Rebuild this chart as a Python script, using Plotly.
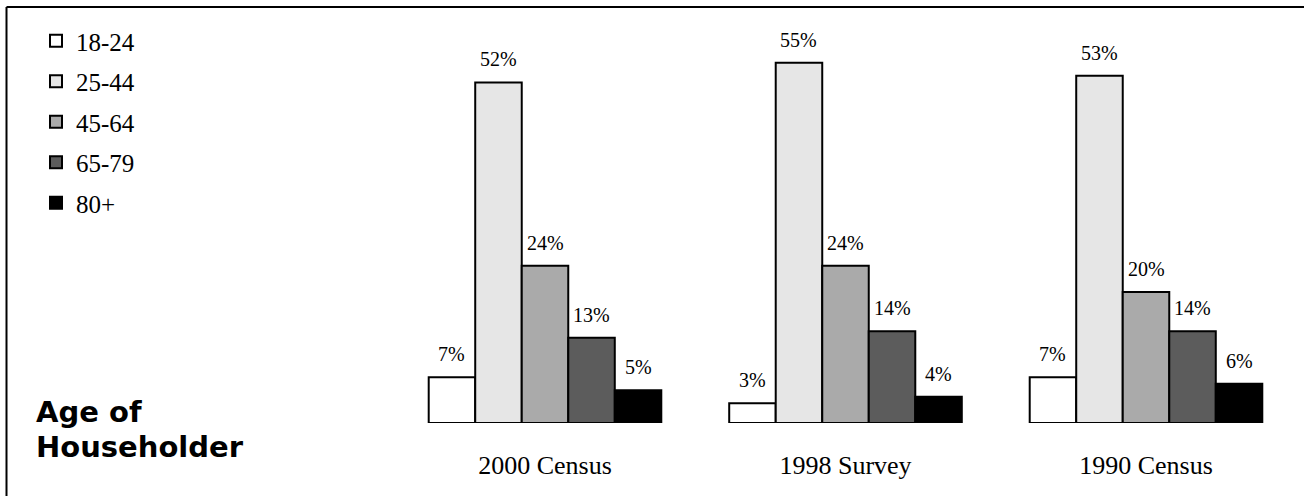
import plotly.graph_objects as go

# ---- data ----
surveys = ["2000 Census", "1998 Survey", "1990 Census"]
age_groups = ["18-24", "25-44", "45-64", "65-79", "80+"]
pct_18_24 = [7, 3, 7]
pct_25_44 = [52, 55, 53]
pct_45_64 = [24, 24, 20]
pct_65_79 = [13, 14, 14]
pct_80_plus = [5, 4, 6]
series_values = [pct_18_24, pct_25_44, pct_45_64, pct_65_79, pct_80_plus]
colors = ["#ffffff", "#e6e6e6", "#aaaaaa", "#5c5c5c", "#000000"]
title_lines = ["Age of", "Householder"]

W, H = 1304, 496
M_T, M_B = 30, 73
BARGAP = 0.226
SERIF = "Liberation Serif, Times New Roman, serif"
plot_h = H - M_T - M_B
base_px = H - M_B


def py(page_y):
    """page pixel row -> paper y"""
    return (base_px - page_y) / plot_h


fig = go.Figure()
for name, vals, col in zip(age_groups, series_values, colors):
    fig.add_trace(go.Bar(
        name=name, x=surveys, y=vals,
        marker=dict(color=col, line=dict(color="#000000", width=2)),
        legendgroup=name,
    ))

# value labels above each bar
n = len(age_groups)
bw = (1 - BARGAP) / n
annotations = []
for j, vals in enumerate(series_values):
    for i, v in enumerate(vals):
        annotations.append(dict(
            x=i - (1 - BARGAP) / 2 + bw * (j + 0.5), y=v, xref="x", yref="y",
            text=f"{v}%", showarrow=False, yanchor="bottom", yshift=10,
            font=dict(family=SERIF, size=20, color="#000000"),
        ))

for line, cy in zip(title_lines, [412, 447]):
    annotations.append(dict(
        x=34 / W, xref="paper", xanchor="left",
        y=py(cy), yref="paper", yanchor="middle",
        text=f"<b>{line}</b>", align="left", showarrow=False,
        font=dict(family="DejaVu Sans, Liberation Sans, Arial, sans-serif", size=29,
                  color="#000000"),
    ))

shapes = [
    dict(type="line", xref="paper", yref="paper",
         x0=6.5 / W, x1=6.5 / W, y0=py(7), y1=py(H + 10),
         line=dict(color="#000000", width=2)),
    dict(type="line", xref="paper", yref="paper",
         x0=6.5 / W, x1=1.05, y0=py(7), y1=py(7),
         line=dict(color="#000000", width=2)),
]

fig.update_layout(
    width=W, height=H,
    margin=dict(l=0, r=0, t=M_T, b=M_B),
    paper_bgcolor="#ffffff", plot_bgcolor="#ffffff",
    barmode="group", bargap=BARGAP, bargroupgap=0,
    showlegend=True,
    legend=dict(
        x=36 / W, xanchor="left", y=py(18), yanchor="top",
        traceorder="grouped", tracegroupgap=5,
        font=dict(family=SERIF, size=25, color="#000000"),
        bgcolor="rgba(0,0,0,0)",
    ),
    xaxis=dict(
        domain=[394.75 / W, 1296.25 / W],
        showgrid=False, zeroline=False, showline=False, ticks="",
        tickfont=dict(family=SERIF, size=26, color="#000000"),
        ticklabelstandoff=24,
    ),
    yaxis=dict(range=[0, 60], visible=False, showgrid=False, zeroline=False),
    annotations=annotations,
    shapes=shapes,
)

fig.write_html("out.html", config={"displayModeBar": False},
               post_script="document.body.style.margin='0px';")
